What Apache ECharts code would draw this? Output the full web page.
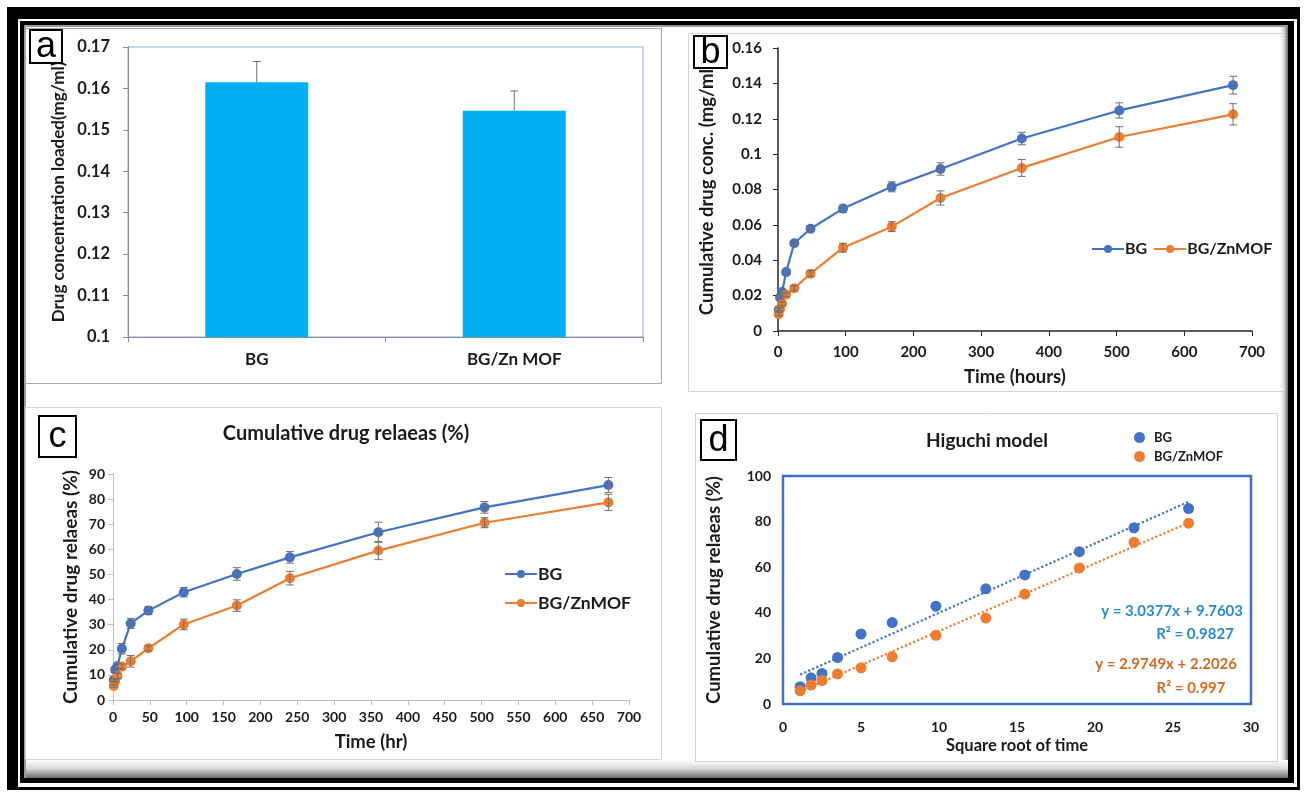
<!DOCTYPE html>
<html><head><meta charset="utf-8">
<script src="https://cdn.jsdelivr.net/npm/echarts@6/dist/echarts.min.js"></script>
<style>html,body{margin:0;padding:0;background:#fff}#c{width:1304px;height:792px}</style>
</head><body><div id="c"></div>
<script>
// ---- data ----
const loadCategories = ['BG', 'BG/Zn MOF'];
const loadValues = [0.1615, 0.1546];
const loadErrors = [0.005, 0.0048];

const timeHours = [1, 3, 6, 12, 24, 48, 96, 168, 240, 360, 504, 672];
const concBG = [0.012, 0.019, 0.022, 0.0333, 0.0496, 0.0578, 0.0692, 0.0815, 0.0916, 0.1088, 0.1247, 0.139];
const concBGErr = [0.001, 0.001, 0.001, 0.0015, 0.0015, 0.0015, 0.002, 0.0028, 0.0035, 0.0035, 0.0043, 0.005];
const concZn = [0.0095, 0.0125, 0.0155, 0.0206, 0.0242, 0.0324, 0.0471, 0.059, 0.0752, 0.0922, 0.1097, 0.1225];
const concZnErr = [0.001, 0.001, 0.001, 0.0012, 0.0015, 0.0017, 0.0025, 0.0028, 0.004, 0.0048, 0.0058, 0.006];

const relBG = [8, 12, 13.5, 20.4, 30.5, 35.6, 42.9, 50.2, 56.8, 66.8, 76.7, 85.6];
const relBGErr = [0.5, 1, 1, 2.1, 2, 1.6, 1.9, 2.5, 2.3, 4, 2.3, 3];
const relZn = [5.6, 7.6, 9.6, 13.3, 15.4, 20.6, 30.1, 37.6, 48.5, 59.5, 70.6, 78.7];
const relZnErr = [0.5, 0.5, 1, 1, 2.3, 1, 2.1, 2.3, 2.7, 3.6, 2, 3.2];

const sqrtTime = [1.1, 1.8, 2.5, 3.5, 5, 7, 9.8, 13, 15.5, 19, 22.5, 26];
const higBG = [7.6, 11.5, 13.4, 20.4, 30.7, 35.7, 42.9, 50.5, 56.6, 66.8, 77.3, 85.7];
const higZn = [5.8, 8.3, 10.3, 13.2, 15.9, 20.7, 30.1, 37.7, 48.2, 59.7, 70.9, 79.3];
const trendBG = [[1.1, 12.9], [26, 88.7]];
const trendZn = [[1.1, 5.5], [26, 79.5]];

const bgEquation = 'y = 3.0377x + 9.7603';
const bgR2 = 'R² = 0.9827';
const znEquation = 'y = 2.9749x + 2.2026';
const znR2 = 'R² = 0.997';

// ---- styling ----
const FONT = 'Lato';
const TXT = '#1a1a1a';
const BLUE = '#4472C4', ORANGE = '#ED7D31', BAR = '#00B0F0';
const chart = echarts.init(document.getElementById('c'), null, {renderer: 'canvas', width: 1304, height: 792});

function errorBars(params, api) {
  const x = api.value(0), y = api.value(1), up = api.value(2), dn = api.value(3);
  const pT = api.coord([x, y + up]);
  const pB = api.coord([x, y - dn]);
  const w = 4;
  const style = {stroke: '#707070', lineWidth: 1};
  const ch = [
    {type: 'line', shape: {x1: pT[0], y1: pT[1], x2: pB[0], y2: pB[1]}, style},
    {type: 'line', shape: {x1: pT[0] - w, y1: pT[1], x2: pT[0] + w, y2: pT[1]}, style}
  ];
  if (dn > 0) ch.push({type: 'line', shape: {x1: pB[0] - w, y1: pB[1], x2: pB[0] + w, y2: pB[1]}, style});
  return {type: 'group', children: ch};
}
function errSeries(xi, xs, ys, es, plusOnly) {
  return {type: 'custom', xAxisIndex: xi, yAxisIndex: xi, renderItem: errorBars, z: 4, silent: true,
    encode: {x: 0, y: 1},
    data: ys.map((v, i) => [xs[i], v, es[i], plusOnly ? 0 : es[i]])};
}
function pts(xs, ys) { return ys.map((v, i) => [xs[i], v]); }
const lab = (size, margin, extra) => Object.assign({fontFamily: FONT, fontWeight: 'bold', fontSize: size, color: TXT, margin}, extra || {});
const nameStyle = (size) => ({fontFamily: FONT, fontWeight: 'bold', fontSize: size, color: TXT});
const fmt2 = v => String(+v.toFixed(2));

function lineSeries(xi, name, xs, ys, color) {
  return {type: 'line', name, xAxisIndex: xi, yAxisIndex: xi, data: pts(xs, ys), symbol: 'circle', symbolSize: 10,
    lineStyle: {width: 2.2, color}, itemStyle: {color}, z: 3};
}

const vShadow = new echarts.graphic.LinearGradient(0, 0, 0, 1, [{offset: 0, color: '#ffffff'}, {offset: 0.5, color: '#d6d6d6'}, {offset: 1, color: '#6a6a6a'}]);
const hShadow = new echarts.graphic.LinearGradient(0, 0, 1, 0, [{offset: 0, color: '#ffffff'}, {offset: 0.5, color: '#d6d6d6'}, {offset: 1, color: '#6a6a6a'}]);

function labelBox(x, y, w, h, t) {
  return [
    {type: 'rect', shape: {x, y, width: w, height: h}, style: {fill: '#fff', stroke: '#000', lineWidth: 2}, z: 50},
    {type: 'text', x: x + w / 2, y: y + h / 2 + 1, style: {text: t, fontFamily: 'Liberation Sans', fontSize: 36, fill: '#000', align: 'center', verticalAlign: 'middle'}, z: 51}
  ];
}
const txt = (x, y, text, size, fill, align) => ({type: 'text', x, y, z: 20,
  style: {text, fontFamily: FONT, fontWeight: 'bold', fontSize: size, fill, align: align || 'center', verticalAlign: 'middle'}});

const option = {
  animation: false,
  backgroundColor: '#fff',
  textStyle: {fontFamily: FONT},
  graphic: [
    {type: 'rect', shape: {x: 7, y: 7, width: 1293, height: 783}, style: {fill: '#000'}, z: -10},
    {type: 'rect', shape: {x: 18, y: 19, width: 1279, height: 768}, style: {fill: '#fff'}, z: -10},
    {type: 'rect', shape: {x: 20, y: 21, width: 1274, height: 762}, style: {fill: '#000'}, z: -10},
    {type: 'rect', shape: {x: 24, y: 25, width: 1264, height: 753}, style: {fill: '#9a9a9a'}, z: -10},
    {type: 'rect', shape: {x: 26, y: 27, width: 1262, height: 751}, style: {fill: '#fff'}, z: -10},
    {type: 'rect', shape: {x: 1280, y: 27, width: 8, height: 751}, style: {fill: hShadow}, z: -9},
    {type: 'rect', shape: {x: 26, y: 760, width: 1262, height: 18}, style: {fill: vShadow}, z: -9},
    // panel boxes
    {type: 'rect', shape: {x: 25.5, y: 28.5, width: 636, height: 355}, style: {fill: 'none', stroke: '#a6a6a6', lineWidth: 1}, z: -5},
    {type: 'rect', shape: {x: 688.5, y: 33.5, width: 596, height: 358}, style: {fill: 'none', stroke: '#d4d4d4', lineWidth: 1}, z: -5},
    {type: 'rect', shape: {x: 25.5, y: 407.5, width: 636, height: 352}, style: {fill: 'none', stroke: '#d4d4d4', lineWidth: 1}, z: -5},
    {type: 'rect', shape: {x: 695.5, y: 413.5, width: 582, height: 348}, style: {fill: 'none', stroke: '#d4d4d4', lineWidth: 1}, z: -5},
    ...labelBox(30, 30, 32, 33, 'a'),
    ...labelBox(694, 36, 33, 32, 'b'),
    ...labelBox(39, 416, 37, 41, 'c'),
    ...labelBox(701, 420, 35, 40, 'd'),
    txt(346, 434, 'Cumulative drug relaeas (%)', 20, TXT),
    txt(987, 441, 'Higuchi model', 19, TXT),
    txt(1243, 611, bgEquation, 15, '#2b88d8', 'right'),
    txt(1195, 634, bgR2, 15, '#2b88d8'),
    txt(1237, 664, znEquation, 15, '#cf6a24', 'right'),
    txt(1191, 688, znR2, 15, '#cf6a24')
  ],
  legend: [
    {orient: 'horizontal', left: 1086, top: 236, itemWidth: 32, itemHeight: 10, itemGap: 6, data: ['BG', 'BG/ZnMOF'],
      textStyle: {fontFamily: FONT, fontWeight: 'bold', fontSize: 16, color: TXT, padding: [0, 0, 0, -4]}},
    {orient: 'vertical', left: 499, top: 560, itemWidth: 32, itemHeight: 10, itemGap: 11, data: ['BG', 'BG/ZnMOF'],
      textStyle: {fontFamily: FONT, fontWeight: 'bold', fontSize: 17.5, color: TXT, padding: [0, 0, 0, -4]}},
    {orient: 'vertical', left: 1129, top: 426, itemWidth: 11, itemHeight: 11, itemGap: 6,
      data: [{name: 'BG', icon: 'circle', itemStyle: {color: BLUE}}, {name: 'BG/ZnMOF', icon: 'circle', itemStyle: {color: ORANGE}}],
      textStyle: {fontFamily: FONT, fontWeight: 'bold', fontSize: 13, color: TXT, padding: [0, 0, 0, 4]}}
  ],
  grid: [
    {left: 128, top: 47, width: 515, height: 290, show: true, borderColor: '#8faadc', borderWidth: 1, backgroundColor: 'transparent'},
    {left: 778, top: 48, width: 474, height: 283},
    {left: 113, top: 474, width: 516, height: 226},
    {left: 783, top: 476, width: 468, height: 228, show: true, borderColor: '#3f6fc6', borderWidth: 2.5, backgroundColor: 'transparent'}
  ],
  xAxis: [
    {type: 'category', gridIndex: 0, data: loadCategories, axisLine: {show: true, lineStyle: {color: '#8c8c8c'}},
      axisTick: {show: true, length: 5, lineStyle: {color: '#8c8c8c'}}, axisLabel: lab(17, 14), splitLine: {show: false}},
    {type: 'value', gridIndex: 1, min: 0, max: 700, interval: 100, axisLine: {show: true, lineStyle: {color: '#262626', width: 1.5}},
      axisTick: {show: true, length: 5, lineStyle: {color: '#262626'}}, axisLabel: lab(15, 14), splitLine: {show: false},
      name: 'Time (hours)', nameLocation: 'middle', nameGap: 37, nameTextStyle: nameStyle(18.5)},
    {type: 'value', gridIndex: 2, min: 0, max: 700, interval: 50, axisLine: {show: true, lineStyle: {color: '#bfbfbf'}},
      axisTick: {show: true, length: 5, lineStyle: {color: '#bfbfbf'}}, axisLabel: lab(14, 10), splitLine: {show: false},
      name: 'Time (hr)', nameLocation: 'middle', nameGap: 33, nameTextStyle: nameStyle(18.5)},
    {type: 'value', gridIndex: 3, min: 0, max: 30, interval: 5, axisLine: {show: false}, axisTick: {show: false},
      axisLabel: lab(14, 16), splitLine: {show: false},
      name: 'Square root of time', nameLocation: 'middle', nameGap: 33, nameTextStyle: nameStyle(16.5)}
  ],
  yAxis: [
    {type: 'value', gridIndex: 0, min: 0.1, max: 0.17, interval: 0.01, axisLine: {show: true, lineStyle: {color: '#8c8c8c'}},
      axisTick: {show: true, length: 5, lineStyle: {color: '#8c8c8c'}}, axisLabel: lab(16.5, 18, {formatter: fmt2}), splitLine: {show: false},
      name: 'Drug concentration loaded(mg/ml)', nameLocation: 'middle', nameGap: 61, nameRotate: 90, nameTextStyle: nameStyle(17)},
    {type: 'value', gridIndex: 1, min: 0, max: 0.16, interval: 0.02, axisLine: {show: true, lineStyle: {color: '#262626', width: 1.5}},
      axisTick: {show: true, length: 5, lineStyle: {color: '#262626'}}, axisLabel: lab(15, 16, {formatter: fmt2}), splitLine: {show: false},
      name: 'Cumulative drug conc. (mg/ml)', nameLocation: 'middle', nameGap: 61, nameRotate: 90, nameTextStyle: nameStyle(18.5)},
    {type: 'value', gridIndex: 2, min: 0, max: 90, interval: 10, axisLine: {show: true, lineStyle: {color: '#bfbfbf'}},
      axisTick: {show: true, length: 5, lineStyle: {color: '#bfbfbf'}}, axisLabel: lab(14, 8), splitLine: {show: false},
      name: 'Cumulative drug relaeas (%)', nameLocation: 'middle', nameGap: 33, nameRotate: 90, nameTextStyle: nameStyle(19)},
    {type: 'value', gridIndex: 3, min: 0, max: 100, interval: 20, axisLine: {show: false}, axisTick: {show: false},
      axisLabel: lab(14, 12), splitLine: {show: false},
      name: 'Cumulative drug relaeas (%)', nameLocation: 'middle', nameGap: 59, nameRotate: 90, nameTextStyle: nameStyle(18.5)}
  ],
  series: [
    {type: 'bar', name: 'loaded', xAxisIndex: 0, yAxisIndex: 0, data: loadValues, barWidth: 103, itemStyle: {color: BAR}, z: 2},
    errSeries(0, [0, 1], loadValues, loadErrors, true),
    lineSeries(1, 'BG', timeHours, concBG, BLUE),
    lineSeries(1, 'BG/ZnMOF', timeHours, concZn, ORANGE),
    errSeries(1, timeHours, concBG, concBGErr, false),
    errSeries(1, timeHours, concZn, concZnErr, false),
    lineSeries(2, 'BG', timeHours, relBG, BLUE),
    lineSeries(2, 'BG/ZnMOF', timeHours, relZn, ORANGE),
    errSeries(2, timeHours, relBG, relBGErr, false),
    errSeries(2, timeHours, relZn, relZnErr, false),
    {type: 'line', name: 'trendBG', xAxisIndex: 3, yAxisIndex: 3, data: trendBG, symbol: 'none', lineStyle: {type: 'dotted', width: 2.2, color: BLUE}, z: 2},
    {type: 'line', name: 'trendZn', xAxisIndex: 3, yAxisIndex: 3, data: trendZn, symbol: 'none', lineStyle: {type: 'dotted', width: 2.2, color: ORANGE}, z: 2},
    {type: 'scatter', name: 'BG', xAxisIndex: 3, yAxisIndex: 3, data: pts(sqrtTime, higBG), symbol: 'circle', symbolSize: 11, itemStyle: {color: BLUE, opacity: 1}, z: 3},
    {type: 'scatter', name: 'BG/ZnMOF', xAxisIndex: 3, yAxisIndex: 3, data: pts(sqrtTime, higZn), symbol: 'circle', symbolSize: 11, itemStyle: {color: ORANGE, opacity: 1}, z: 3}
  ]
};
chart.setOption(option);
</script>
</body></html>
